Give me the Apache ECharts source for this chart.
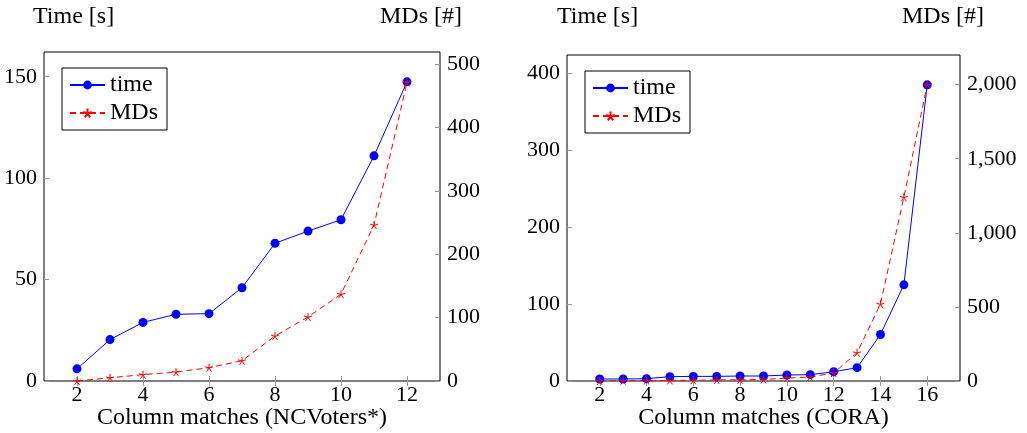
<!DOCTYPE html>
<html>
<head>
<meta charset="utf-8">
<title>Column matches</title>
<script src="https://cdn.jsdelivr.net/npm/echarts@6/dist/echarts.min.js"></script>
<style>
  html, body { margin: 0; padding: 0; background: #fff; }
  #chart { width: 1027px; height: 433px; }
</style>
</head>
<body>
<div id="chart"></div>
<script>
// NCVoters* (left chart)
var ncvColumns = [2, 3, 4, 5, 6, 7, 8, 9, 10, 11, 12];
var ncvTime = [6, 20.4, 28.9, 32.9, 33.2, 46, 67.9, 73.9, 79.5, 111, 147.5];
var ncvMds = [0, 5, 10, 14, 21, 32, 71, 101, 137, 246, 471];

// CORA (right chart)
var coraColumns = [2, 3, 4, 5, 6, 7, 8, 9, 10, 11, 12, 13, 14, 15, 16];
var coraTime = [2.6, 2.6, 3, 5.6, 6, 6, 6.5, 6.5, 7.8, 8.2, 12, 17.3, 60.5, 125, 385];
var coraMds = [1, 2, 3, 4, 5, 7, 8, 10, 20, 27, 54, 191, 519, 1240, 2000];

// tick labels
var ncvXTicks = [2, 4, 6, 8, 10, 12];
var ncvTimeTicks = [0, 50, 100, 150];
var ncvMdsTicks = [0, 100, 200, 300, 400, 500];
var coraXTicks = [2, 4, 6, 8, 10, 12, 14, 16];
var coraTimeTicks = [0, 100, 200, 300, 400];
var coraMdsTicks = [0, 500, 1000, 1500, 2000];

var FONT = 'Liberation Serif';
var FS = 22;      // tick labels
var FS_BIG = 24;  // axis titles, legend
var STAR = 'path://M0,0L0,-10M0,0L-9.51,-3.09M0,0L-5.88,8.09M0,0L5.88,8.09M0,0L9.51,-3.09';

function pairs(xs, ys) {
  return xs.map(function (x, i) { return [x, ys[i]]; });
}

function xAxisOf(grid, min, max, ticks, name, top) {
  return {
    type: 'value',
    gridIndex: grid,
    position: top ? 'top' : 'bottom',
    min: min,
    max: max,
    name: top ? '' : name,
    nameLocation: 'middle',
    nameGap: 25,
    nameMoveOverlap: false,
    nameTextStyle: { fontFamily: FONT, fontSize: FS_BIG, color: '#000' },
    splitLine: { show: false },
    axisLine: { show: false },
    axisTick: { show: true, inside: true, length: 5, customValues: ticks, lineStyle: { color: '#999' } },
    axisLabel: { show: !top, customValues: ticks, margin: 3, fontFamily: FONT, fontSize: FS, color: '#000' }
  };
}

function yAxisOf(grid, max, ticks, right) {
  return {
    type: 'value',
    gridIndex: grid,
    position: right ? 'right' : 'left',
    min: 0,
    max: max,
    splitLine: { show: false },
    axisLine: { show: false },
    axisTick: { show: true, inside: true, length: 5, customValues: ticks, lineStyle: { color: '#999' } },
    axisLabel: {
      customValues: ticks,
      margin: 7,
      fontFamily: FONT,
      fontSize: FS,
      color: '#000',
      formatter: function (v) { return v.toLocaleString('en-US'); }
    }
  };
}

function legendOf(left, top) {
  return {
    left: left,
    top: top,
    orient: 'vertical',
    backgroundColor: '#fff',
    borderColor: '#000',
    borderWidth: 1,
    padding: [4, 9, 4, 7],
    itemGap: 2,
    itemWidth: 35,
    itemHeight: 11,
    textStyle: { fontFamily: FONT, fontSize: FS_BIG, color: '#000', lineHeight: 26 },
    data: ['time', 'MDs']
  };
}

function timeSeries(xi, yi, xs, ys) {
  return {
    name: 'time',
    type: 'line',
    xAxisIndex: xi,
    yAxisIndex: yi,
    data: pairs(xs, ys),
    symbol: 'circle',
    symbolSize: 9,
    color: '#0000ff',
    lineStyle: { color: '#0000ff', width: 1 },
    itemStyle: { color: '#0000ff', borderWidth: 0 }
  };
}

function mdsSeries(xi, yi, xs, ys) {
  return {
    name: 'MDs',
    type: 'line',
    xAxisIndex: xi,
    yAxisIndex: yi,
    data: pairs(xs, ys),
    symbol: STAR,
    symbolSize: 8,
    color: '#ff0000',
    lineStyle: { color: '#ff0000', width: 1, type: [6, 4] },
    itemStyle: { color: '#ff0000', borderColor: '#ff0000', borderWidth: 1 }
  };
}

var chart = echarts.init(document.getElementById('chart'));

var option = {
  animation: false,
  backgroundColor: '#fff',
  title: [
    { text: 'Time [s]', left: 33, top: 5 },
    { text: 'MDs [#]', left: 380, top: 5 },
    { text: 'Time [s]', left: 557, top: 5 },
    { text: 'MDs [#]', left: 902, top: 5 }
  ].map(function (t) {
    t.padding = 0;
    t.textStyle = { fontFamily: FONT, fontSize: FS_BIG, fontWeight: 'normal', color: '#000' };
    return t;
  }),
  grid: [
    { left: 44, top: 52, width: 396, height: 329, show: true, borderColor: '#000', borderWidth: 1, outerBoundsMode: 'none' },
    { left: 567, top: 55, width: 393, height: 326, show: true, borderColor: '#000', borderWidth: 1, outerBoundsMode: 'none' }
  ],
  legend: [legendOf(62, 68), legendOf(585, 71)],
  xAxis: [
    xAxisOf(0, 1, 13, ncvXTicks, 'Column matches (NCVoters*)', false),
    xAxisOf(0, 1, 13, ncvXTicks, '', true),
    xAxisOf(1, 0.6, 17.4, coraXTicks, 'Column matches (CORA)', false),
    xAxisOf(1, 0.6, 17.4, coraXTicks, '', true)
  ],
  yAxis: [
    yAxisOf(0, 162.2, ncvTimeTicks, false),
    yAxisOf(0, 519, ncvMdsTicks, true),
    yAxisOf(1, 423.8, coraTimeTicks, false),
    yAxisOf(1, 2200, coraMdsTicks, true)
  ],
  series: [
    timeSeries(0, 0, ncvColumns, ncvTime),
    mdsSeries(0, 1, ncvColumns, ncvMds),
    timeSeries(2, 2, coraColumns, coraTime),
    mdsSeries(2, 3, coraColumns, coraMds)
  ]
};

chart.setOption(option);
</script>
</body>
</html>
